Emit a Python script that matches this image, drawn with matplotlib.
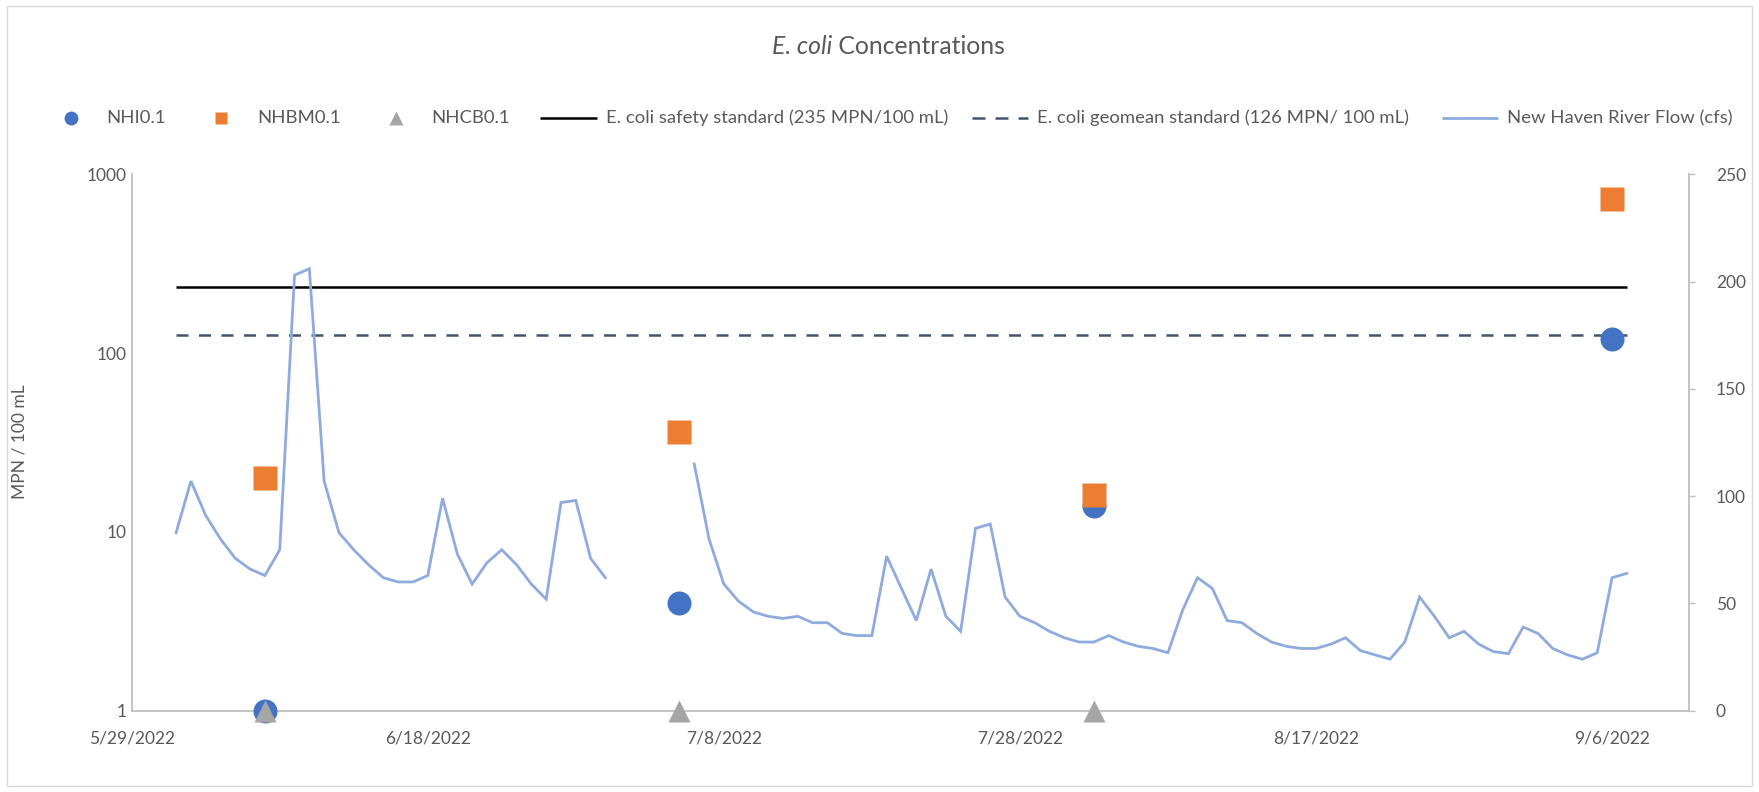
import numpy as np
import pandas as pd
import matplotlib
matplotlib.use("Agg")
import matplotlib.pyplot as plt
import matplotlib.dates as mdates
from matplotlib.lines import Line2D
from matplotlib.patches import Rectangle

plt.rcParams['font.family'] = ['Lato', 'DejaVu Sans']

# ---------------- data ----------------
sample_dates = pd.to_datetime(['2022-06-07', '2022-07-05', '2022-08-02', '2022-09-06'])
nhi = [1, 4, 14, 120]
nhbm = [20, 36, 16, 730]
nhcb_dates = pd.to_datetime(['2022-06-07', '2022-07-05', '2022-08-02'])
nhcb = [1, 1, 1]

flow_dates = pd.date_range('2022-06-01', '2022-09-07', freq='D')
flow_jun = [83, 107, 91, 80, 71, 66, 63, 75, 203, 206, 107, 83, 75, 68, 62, 60, 60, 63, 99, 73,
            59, 69, 75, 68, 59, 52, 97, 98, 71, 62]
flow_gap = [np.nan] * 5
flow_jul_aug = [115, 80, 59, 51, 46, 44, 43, 44, 41, 41, 36, 35, 35, 72, 57, 42, 66, 44, 37, 85,
                87, 53, 44, 41, 37, 34, 32, 32, 35,
                32, 30, 29, 27, 47, 62, 57, 42, 41, 36, 32, 30, 29, 29, 31, 34, 28, 26, 24, 32,
                53, 44, 34, 37, 31, 27.5, 26.6, 39, 36, 29, 26, 24, 27, 62, 64]
flow = flow_jun + flow_gap + flow_jul_aug

std_dates = pd.to_datetime(['2022-06-01', '2022-09-07'])
safety_std = 235
geomean_std = 126

xtick_dates = pd.to_datetime(['2022-05-29', '2022-06-18', '2022-07-08', '2022-07-28', '2022-08-17', '2022-09-06'])
xtick_labels = ['5/29/2022', '6/18/2022', '7/8/2022', '7/28/2022', '8/17/2022', '9/6/2022']
left_ticks = [1, 10, 100, 1000]
left_labels = ['1', '10', '100', '1000']
right_ticks = [0, 50, 100, 150, 200, 250]

title_italic = 'E. coli'
title_rest = ' Concentrations'
legend_labels = ['NHI0.1', 'NHBM0.1', 'NHCB0.1', 'E. coli safety standard (235 MPN/100 mL)',
                 'E. coli geomean standard (126 MPN/ 100 mL)', 'New Haven River Flow (cfs)']

# ---------------- style ----------------
C_BLUE = '#4472C4'
C_ORANGE = '#ED7D31'
C_GRAY = '#A5A5A5'
C_FLOW = '#8FAADC'
C_DASH = '#44546A'
C_TEXT = '#595959'
C_AXIS = '#BFBFBF'
FS = 12.5
FS_LEG = 13.3

W, H = 1759, 792
fig = plt.figure(figsize=(W / 100, H / 100), dpi=100)
fig.patches.append(Rectangle((7 / W, 6 / H), (W - 14) / W, (H - 12) / H, transform=fig.transFigure,
                             fill=False, edgecolor='#D9D9D9', linewidth=1.0))

x0, x1, y0, y1 = 131.7, 1689, 174.3, 710.7
ax = fig.add_axes([x0 / W, 1 - y1 / H, (x1 - x0) / W, (y1 - y0) / H])
ax2 = ax.twinx()

# standards + markers on primary axis
ax.plot(std_dates, [safety_std] * 2, color='black', lw=1.8, solid_capstyle='butt', zorder=2)
ax.plot(std_dates, [geomean_std] * 2, color=C_DASH, lw=1.8, dashes=(4.8, 4.2), zorder=2)
ax.plot(sample_dates, nhi, 'o', color=C_BLUE, ms=17.3, mec='none', clip_on=False, zorder=3)
ax.plot(sample_dates, nhbm, 's', color=C_ORANGE, ms=17.3, mec='none', clip_on=False, zorder=4)
ax.plot(nhcb_dates, nhcb, '^', color=C_GRAY, ms=16.5, mec='none', clip_on=False, zorder=5)

ax.set_yscale('log')
ax.set_ylim(1, 1000)
ax.set_yticks(left_ticks)
ax.set_yticklabels(left_labels)
ax.yaxis.set_minor_locator(matplotlib.ticker.NullLocator())
xmin = mdates.date2num(pd.Timestamp('2022-05-29'))
ax.set_xlim(xmin, xmin + 105.2)
ax.set_xticks(xtick_dates)
ax.set_xticklabels(xtick_labels)

# flow on secondary axis
ax2.plot(flow_dates, flow, color=C_FLOW, lw=2.0, solid_joinstyle='miter', zorder=2)
ax2.set_ylim(0, 250)
ax2.set_yticks(right_ticks)

for a in (ax, ax2):
    a.set_facecolor('none')
    for s in a.spines.values():
        s.set_visible(False)
ax.spines['left'].set_visible(True)
ax.spines['bottom'].set_visible(True)
ax2.spines['right'].set_visible(True)
for s in (ax.spines['left'], ax.spines['bottom'], ax2.spines['right']):
    s.set_color(C_AXIS)
    s.set_linewidth(1.3)

ax.tick_params(axis='y', length=0, pad=4, labelsize=FS, labelcolor=C_TEXT)
ax.tick_params(axis='x', length=0, pad=14, labelsize=FS, labelcolor=C_TEXT)
ax2.tick_params(axis='y', length=4.3, width=1.0, color=C_AXIS, pad=15, labelsize=FS, labelcolor=C_TEXT)

fig.text(20 / W, 1 - 442 / H, 'MPN / 100 mL', rotation=90, ha='center', va='center',
         fontsize=FS, color=C_TEXT)

# title with italic part
renderer = fig.canvas.get_renderer()
ty = 1 - 47 / H
t1 = fig.text(772 / W, ty, title_italic, fontsize=17.8, style='italic', color=C_TEXT, ha='left', va='center')
bb = t1.get_window_extent(renderer=renderer)
fig.text(bb.x1 / W, ty, title_rest, fontsize=17.8, color=C_TEXT, ha='left', va='center')

# legend (manual single row)
ly = 1 - 118 / H
tf = fig.transFigure
fig.add_artist(Line2D([70.7 / W], [ly], marker='o', color=C_BLUE, ms=10, mec='none', transform=tf))
fig.add_artist(Line2D([220.7 / W], [ly], marker='s', color=C_ORANGE, ms=9.1, mec='none', transform=tf))
fig.add_artist(Line2D([396 / W], [ly], marker='^', color=C_GRAY, ms=9.5, mec='none', transform=tf))
fig.add_artist(Line2D([540 / W, 597 / W], [ly, ly], color='black', lw=1.8, solid_capstyle='butt', transform=tf))
fig.add_artist(Line2D([971.7 / W, 1028.3 / W], [ly, ly], color=C_DASH, lw=1.8, dashes=(5.2, 4.0),
                      transform=tf))
fig.add_artist(Line2D([1441.7 / W, 1498.3 / W], [ly, ly], color=C_FLOW, lw=2.0, solid_capstyle='butt',
                      transform=tf))
text_x = [106.7, 257, 431, 606, 1037.3, 1507.3]
for tx, lab in zip(text_x, legend_labels):
    fig.text(tx / W, ly, lab, fontsize=FS_LEG, color=C_TEXT, ha='left', va='center')

fig.savefig('out.png', dpi=100)
